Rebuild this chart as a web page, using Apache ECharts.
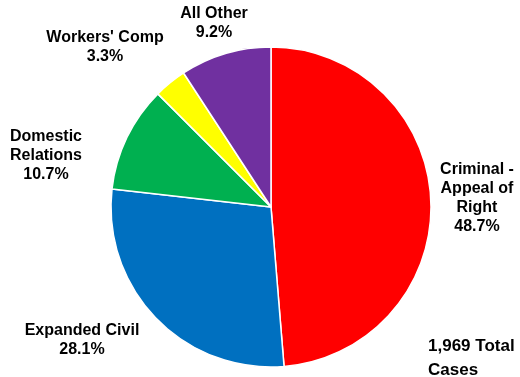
<!DOCTYPE html>
<html><head><meta charset="utf-8">
<script src="https://cdn.jsdelivr.net/npm/echarts@6/dist/echarts.min.js"></script>
<style>html,body{margin:0;padding:0;background:#fff}#c{width:520px;height:377px}</style>
</head><body><div id="c"></div>
<script>
var categories = ["Criminal -\nAppeal of\nRight", "Expanded Civil", "Domestic\nRelations", "Workers' Comp", "All Other"];
var values = [48.7, 28.1, 10.7, 3.3, 9.2];
var colors = ["#FF0000", "#0070C0", "#00B050", "#FFFF00", "#7030A0"];
var totalText = "1,969 Total\nCases";

var labelSpots = [[477, 198], [82, 340], [46, 156], [105, 47], [214, 23]];
var chart = echarts.init(document.getElementById('c'));
chart.setOption({
  animation: false,
  title: {
    text: totalText, left: 423, top: 329,
    textStyle: {fontFamily: 'Liberation Sans, Arial', fontWeight: 'bold', fontSize: 17, lineHeight: 24, color: '#000'}
  },
  series: [{
    type: 'pie',
    center: [271, 207],
    radius: 160,
    startAngle: 90,
    clockwise: true,
    data: categories.map(function (c, i) { return {name: c, value: values[i], itemStyle: {color: colors[i]}}; }),
    itemStyle: {borderColor: '#fff', borderWidth: 1.5},
    label: {
      show: true, position: 'outside', overflow: 'none', width: 200,
      formatter: function (p) { return p.name + '\n' + p.value.toFixed(1) + '%'; },
      fontFamily: 'Liberation Sans, Arial', fontWeight: 'bold', fontSize: 16, lineHeight: 19,
      color: '#000', align: 'center'
    },
    labelLine: {show: false},
    labelLayout: function (p) {
      var s = labelSpots[p.dataIndex];
      return {x: s[0], y: s[1], align: 'center', verticalAlign: 'middle'};
    }
  }]
});
</script></body></html>
